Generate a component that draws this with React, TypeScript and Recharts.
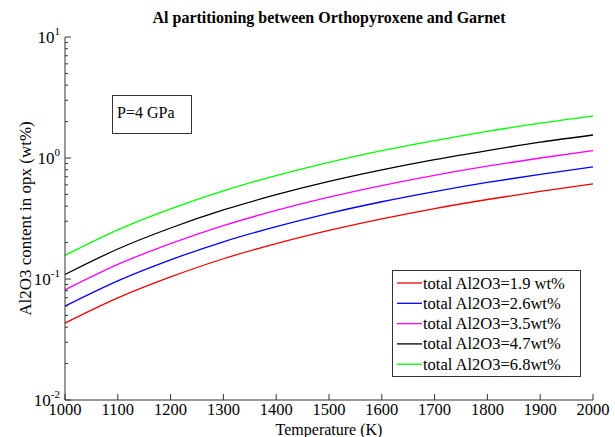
import { LineChart, Line, XAxis, YAxis } from "recharts";

// temperature (K)
const temps = [1000, 1100, 1200, 1300, 1400, 1500, 1600, 1700, 1800, 1900, 2000];

// Al2O3 in opx (wt%)
const al19 = [0.0432, 0.0698, 0.104, 0.147, 0.196, 0.252, 0.314, 0.382, 0.454, 0.53, 0.61];
const al26 = [0.0597, 0.0966, 0.144, 0.203, 0.271, 0.349, 0.435, 0.528, 0.628, 0.733, 0.843];
const al35 = [0.0813, 0.132, 0.196, 0.276, 0.369, 0.475, 0.592, 0.719, 0.855, 1.0, 1.15];
const al47 = [0.109, 0.177, 0.264, 0.372, 0.497, 0.64, 0.797, 0.968, 1.15, 1.35, 1.55];
const al68 = [0.157, 0.255, 0.38, 0.535, 0.715, 0.92, 1.15, 1.39, 1.66, 1.94, 2.22];

const seriesValues = [al19, al26, al35, al47, al68];
const seriesNames = [
  "total Al2O3=1.9 wt%",
  "total Al2O3=2.6wt%",
  "total Al2O3=3.5wt%",
  "total Al2O3=4.7wt%",
  "total Al2O3=6.8wt%",
];
const seriesColors = ["#f00000", "#0000ff", "#ff00ff", "#000000", "#00ff00"];

const xTicks = [1000, 1100, 1200, 1300, 1400, 1500, 1600, 1700, 1800, 1900, 2000];
const yTicks = [
  0.01, 0.02, 0.03, 0.04, 0.05, 0.06, 0.07, 0.08, 0.09,
  0.1, 0.2, 0.3, 0.4, 0.5, 0.6, 0.7, 0.8, 0.9,
  1, 2, 3, 4, 5, 6, 7, 8, 9, 10,
];

const data = temps.map((t, i) => {
  const row: Record<string, number> = { t };
  seriesValues.forEach((s, k) => (row["s" + k] = s[i]));
  return row;
});

const FONT = "'Liberation Serif', 'Times New Roman', serif";
const AXIS = "#333";

function YTick(props: any) {
  const { x, y, payload, side } = props;
  const lg = Math.log10(payload.value);
  const exp = Math.round(lg);
  const major = Math.abs(lg - exp) < 1e-6;
  const len = major ? 6 : 3;
  const dir = side === "left" ? 1 : -1;
  return (
    <g>
      <line x1={x} y1={y} x2={x + dir * len} y2={y} stroke={AXIS} />
      {major && side === "left" && (
        <text x={x - 5} y={y + 6} textAnchor="end" fontFamily={FONT} fontSize={17} fill="#000">
          10<tspan dy={-8} fontSize={11}>{exp}</tspan>
        </text>
      )}
    </g>
  );
}

function XTick(props: any) {
  const { x, y, payload, side } = props;
  const dir = side === "bottom" ? -1 : 1;
  return (
    <g>
      <line x1={x} y1={y} x2={x} y2={y + dir * 6} stroke={AXIS} />
      {side === "bottom" && (
        <text x={x} y={y + 15} textAnchor="middle" fontFamily={FONT} fontSize={16.5} fill="#000">
          {payload.value}
        </text>
      )}
    </g>
  );
}

export default function App() {
  return (
    <div style={{ position: "absolute", left: 0, top: 0, width: 615, height: 437, background: "#fff" }}>
      <LineChart
        width={615}
        height={437}
        data={data}
        margin={{ top: 37, right: 22, bottom: 0, left: 0 }}
      >
        <XAxis
          dataKey="t"
          type="number"
          domain={[1000, 2000]}
          ticks={xTicks}
          interval={0}
          height={37}
          tickSize={0}
          tickMargin={0}
          tickLine={false}
          axisLine={{ stroke: AXIS }}
          tick={<XTick side="bottom" />}
          label={{ value: "Temperature (K)", position: "insideBottom", offset: 2, fontFamily: FONT, fontSize: 16, fill: "#000" }}
        />
        <XAxis
          xAxisId="top"
          dataKey="t"
          type="number"
          orientation="top"
          domain={[1000, 2000]}
          ticks={xTicks}
          interval={0}
          height={0}
          tickSize={0}
          tickMargin={0}
          tickLine={false}
          axisLine={{ stroke: AXIS }}
          tick={<XTick side="top" />}
        />
        <YAxis
          scale="log"
          type="number"
          domain={[0.01, 10]}
          allowDataOverflow
          ticks={yTicks}
          interval={0}
          width={65}
          tickSize={0}
          tickMargin={0}
          tickLine={false}
          axisLine={{ stroke: AXIS }}
          tick={<YTick side="left" />}
          label={{
            value: "Al2O3 content in opx (wt%)",
            angle: -90,
            position: "insideLeft",
            offset: 25,
            fontFamily: FONT,
            fontSize: 17,
            fill: "#000",
            style: { textAnchor: "middle" },
          }}
        />
        <YAxis
          yAxisId="right"
          orientation="right"
          scale="log"
          type="number"
          domain={[0.01, 10]}
          allowDataOverflow
          ticks={yTicks}
          interval={0}
          width={0}
          tickSize={0}
          tickMargin={0}
          tickLine={false}
          axisLine={{ stroke: AXIS }}
          tick={<YTick side="right" />}
        />
        {seriesValues.map((_, k) => (
          <Line
            key={k}
            dataKey={"s" + k}
            name={seriesNames[k]}
            stroke={seriesColors[k]}
            strokeWidth={1.3}
            dot={false}
            type="monotone"
            isAnimationActive={false}
          />
        ))}
      </LineChart>

      <svg
        width={615}
        height={437}
        style={{ position: "absolute", left: 0, top: 0, pointerEvents: "none" }}
        fontFamily={FONT}
      >
        <text x={329} y={23} textAnchor="middle" fontSize={16} fontWeight="bold" fill="#000">
          Al partitioning between Orthopyroxene and Garnet
        </text>

        <rect x={112.5} y={95.5} width={79} height={38} fill="#fff" stroke={AXIS} />
        <text x={117} y={118} fontSize={16} fill="#000">P=4 GPa</text>

        <rect x={392.5} y={270.5} width={188} height={106} fill="#fff" stroke={AXIS} />
        {seriesNames.map((name, k) => {
          const cy = 283 + k * 20.3;
          return (
            <g key={name}>
              <line x1={397} y1={cy} x2={422} y2={cy} stroke={seriesColors[k]} strokeWidth={1.3} />
              <text x={423} y={cy + 5.5} fontSize={16.5} fill="#000">{name}</text>
            </g>
          );
        })}
      </svg>
    </div>
  );
}
